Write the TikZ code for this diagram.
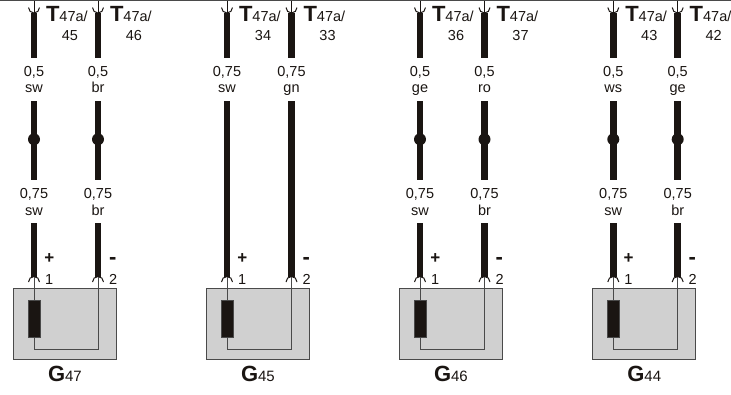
\documentclass[tikz,border=0pt]{standalone}
\usepackage{fontspec}
\setmainfont{Liberation Sans}
\definecolor{ink}{HTML}{1A1512}
\definecolor{boxfill}{HTML}{D0D0D0}
\definecolor{edge}{HTML}{4A4A4A}
\tikzset{
  x=1pt,y=-1pt,
  wire/.style={draw=ink,line width=6.5pt},
  hairwire/.style={draw=edge,line width=1pt},
  socket/.style={draw=ink,line width=1pt},
  txt/.style={inner sep=0pt,outer sep=0pt,anchor=base,text=ink,font=\fontsize{14.5}{16}\selectfont},
  bigtxt/.style={txt,anchor=base west},
  signtxt/.style={txt,font=\bfseries\fontsize{17}{17}\selectfont},
  minustxt/.style={txt,font=\bfseries\fontsize{22}{22}\selectfont},
  devbox/.style={draw=edge,fill=boxfill,line width=1pt,minimum width=103pt,minimum height=71pt,inner sep=0pt,outer sep=0pt},
  resbox/.style={draw=edge,fill=ink,line width=0.5pt,minimum width=12.5pt,minimum height=37pt,inner sep=0pt,outer sep=0pt},
  junction/.style={circle,fill=ink,inner sep=0pt,outer sep=0pt,minimum size=12pt},
}
\newcommand{\upperend}[3]{% x, id, contact
  \coordinate (#2rail) at (#1,0.5);
  \coordinate (#2cup) at (#1,13);
  \draw[socket] (#2rail) -- (#2cup);
  \draw[socket] (#1-5.5,7.5) arc[start angle=180,end angle=0,radius=5.5];
  \node[bigtxt] (#2T) at (#1+12,21) {{\bfseries\fontsize{22}{22}\selectfont T}47a/};
  \node[txt] (#2n) at (#1+36,40) {#3};
}
\newcommand{\lowerend}[4]{% x, id, pin, sign node
  \coordinate (#2pin) at (#1,277);
  \draw[socket] (#1-5.5,282) arc[start angle=180,end angle=360,radius=5.5];
  \node[bigtxt] (#2p) at (#1+11,284) {#3};
  #4
}
\newcommand{\gaugeA}[4]{% x, id, size, colour (upper)
  \node[txt] (#2s1) at (#1,76) {#3};
  \node[txt] (#2c1) at (#1,92) {#4};
}
\newcommand{\gaugeB}[4]{% lower
  \node[txt] (#2s2) at (#1,198) {#3};
  \node[txt] (#2c2) at (#1,215) {#4};
}
\newcommand{\spliced}[2]{% x, id
  \coordinate (#2u) at (#1,58);
  \coordinate (#2m) at (#1,101);
  \coordinate (#2v) at (#1,180);
  \coordinate (#2w) at (#1,223);
  \draw[wire] (#2cup) -- (#2u);
  \draw[wire] (#2m) -- (#2v);
  \draw[wire] (#2w) -- (#2pin);
  \node[junction] (#2j) at (#1,139.3) {};
}
\newcommand{\straight}[2]{% x, id
  \coordinate (#2u) at (#1,58);
  \coordinate (#2m) at (#1,101);
  \draw[wire] (#2cup) -- (#2u);
  \draw[wire] (#2m) -- (#2pin);
}
\newcommand{\sensor}[5]{% xa, xb, ida, idb, number
  \node[devbox] (box#5) at (#1+30.7,324.4) {};
  \node[resbox] (res#5) at (#1,318.7) {};
  \coordinate (turnA#5) at (#1,349);
  \coordinate (turnB#5) at (#2,349);
  \draw[hairwire] (#3pin) -- (res#5.north);
  \draw[hairwire] (res#5.south) -- (turnA#5) -- (turnB#5) -- (#4pin);
  \node[bigtxt] (name#5) at (#1+14,381) {{\bfseries\fontsize{22}{22}\selectfont G}\fontsize{15}{16}\selectfont #5};
}
\begin{document}
\begin{tikzpicture}
\useasboundingbox (0,0) rectangle (731,394);
\fill[white] (0,0) rectangle (731,394);
\coordinate (railL) at (0,0.6);
\coordinate (railR) at (731,0.6);
\draw[edge,line width=1.3pt] (railL) -- (railR);

% G47
\upperend{34}{a}{45}\upperend{98}{b}{46}
\gaugeA{34}{a}{0,5}{sw}\gaugeA{98}{b}{0,5}{br}
\gaugeB{34}{a}{0,75}{sw}\gaugeB{98}{b}{0,75}{br}
\lowerend{34}{a}{1}{\node[signtxt] (as) at (49.3,263.4) {+};}
\lowerend{98}{b}{2}{\node[minustxt] (bs) at (112.7,264) {-};}
\spliced{34}{a}\spliced{98}{b}
\sensor{34}{98}{a}{b}{47}

% G45
\upperend{227}{c}{34}\upperend{291.5}{d}{33}
\gaugeA{227}{c}{0,75}{sw}\gaugeA{291.5}{d}{0,75}{gn}
\lowerend{227}{c}{1}{\node[signtxt] (cs) at (242.3,263.4) {+};}
\lowerend{291.5}{d}{2}{\node[minustxt] (ds) at (306.2,264) {-};}
\straight{227}{c}\straight{291.5}{d}
\sensor{227}{291.5}{c}{d}{45}

% G46
\upperend{420}{e}{36}\upperend{484.5}{f}{37}
\gaugeA{420}{e}{0,5}{ge}\gaugeA{484.5}{f}{0,5}{ro}
\gaugeB{420}{e}{0,75}{sw}\gaugeB{484.5}{f}{0,75}{br}
\lowerend{420}{e}{1}{\node[signtxt] (es) at (435.3,263.4) {+};}
\lowerend{484.5}{f}{2}{\node[minustxt] (fs) at (499.2,264) {-};}
\spliced{420}{e}\spliced{484.5}{f}
\sensor{420}{484.5}{e}{f}{46}

% G44
\upperend{613.3}{g}{43}\upperend{677.7}{h}{42}
\gaugeA{613.3}{g}{0,5}{ws}\gaugeA{677.7}{h}{0,5}{ge}
\gaugeB{613.3}{g}{0,75}{sw}\gaugeB{677.7}{h}{0,75}{br}
\lowerend{613.3}{g}{1}{\node[signtxt] (gs) at (628.6,263.4) {+};}
\lowerend{677.7}{h}{2}{\node[minustxt] (hs) at (692.4,264) {-};}
\spliced{613.3}{g}\spliced{677.7}{h}
\sensor{613.3}{677.7}{g}{h}{44}
\end{tikzpicture}
\end{document}
